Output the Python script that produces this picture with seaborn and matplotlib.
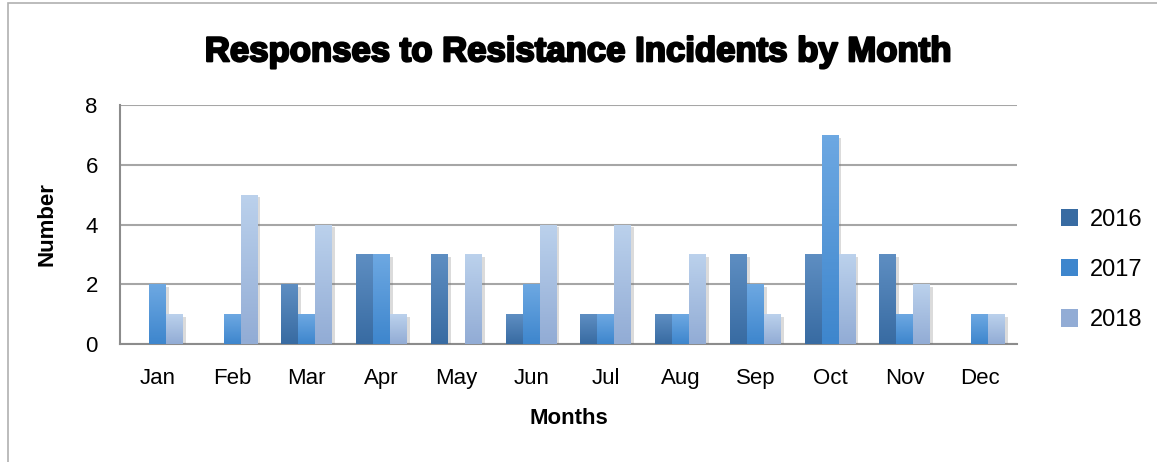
import numpy as np
import pandas as pd
import matplotlib
matplotlib.use("Agg")
import matplotlib.pyplot as plt
import matplotlib.patheffects as pe
from matplotlib.colors import LinearSegmentedColormap
from matplotlib.patches import Rectangle
import seaborn as sns

# --- Data ---
months = ["Jan", "Feb", "Mar", "Apr", "May", "Jun",
          "Jul", "Aug", "Sep", "Oct", "Nov", "Dec"]
years = ["2016", "2017", "2018"]
v2016 = [0, 0, 2, 3, 3, 1, 1, 1, 3, 3, 3, 0]
v2017 = [2, 1, 1, 3, 0, 2, 1, 1, 2, 7, 1, 1]
v2018 = [1, 5, 4, 1, 3, 4, 4, 3, 1, 3, 2, 1]

df = pd.DataFrame({"Month": months * 3,
                   "Year": np.repeat(years, len(months)),
                   "Number": v2016 + v2017 + v2018})

# top / bottom gradient colours per series
GRAD = {"2016": ("#5E8EC2", "#386BA2"),
        "2017": ("#6DA8E2", "#3E86CD"),
        "2018": ("#BBD1EC", "#92ACD5")}
palette = {y: GRAD[y][1] for y in years}

# --- Plot ---
sns.set_style("white")
plt.rcParams["font.family"] = ["Liberation Sans", "DejaVu Sans"]
plt.rcParams.update({"text.color": "black", "axes.labelcolor": "black",
                     "xtick.color": "black", "ytick.color": "black"})

fig = plt.figure(figsize=(11.57, 4.62), dpi=100)
ax = fig.add_axes([0.1037, 0.2554, 0.7753, 0.5173])

sns.barplot(data=df, x="Month", y="Number", hue="Year", palette=palette,
            width=0.68, gap=0, saturation=1, linewidth=0, ax=ax, zorder=3)

ax.set_ylim(0, 8)
ax.set_yticks([0, 2, 4, 6, 8])
ax.set_xlim(-0.5, 11.5)
ax.grid(axis="y", color="#A6A6A6", linewidth=1.5, zorder=0)
ax.grid(axis="x", visible=False)
for s in ["top", "right"]:
    ax.spines[s].set_visible(False)
for s in ["left", "bottom"]:
    ax.spines[s].set_color("#8C8C8C")
    ax.spines[s].set_linewidth(1.5)
ax.tick_params(axis="y", length=6, width=1.5, color="#8C8C8C", labelsize=16,
               labelcolor="black", pad=10)
ax.tick_params(axis="x", length=0, labelsize=16, labelcolor="black", pad=17)

# gradient fill + soft shadow on each bar
for i, patch in enumerate(ax.patches[:len(df)]):
    yr = years[i // len(months)]
    h = patch.get_height()
    if h <= 0:
        continue
    x0, w = patch.get_x(), patch.get_width()
    cmap = LinearSegmentedColormap.from_list("g", [GRAD[yr][1], GRAD[yr][0]])
    grad = np.linspace(0, 1, 64).reshape(-1, 1)
    im = ax.imshow(grad, cmap=cmap, origin="lower", aspect="auto",
                   extent=(x0, x0 + w, 0, h), zorder=3.5)
    im.set_clip_path(patch)
    patch.set_path_effects([pe.SimplePatchShadow(offset=(2, -2), alpha=0.25,
                                                 shadow_rgbFace="#707070"),
                            pe.Normal()])
ax.set_xlim(-0.5, 11.5)
ax.set_ylim(0, 8)

ax.set_xlabel("Months", fontsize=16, fontweight="bold", labelpad=14)
ax.set_ylabel("Number", fontsize=16, fontweight="bold", labelpad=20)

fig.text(0.50, 0.888, "Responses to Resistance Incidents by Month",
         ha="center", va="center", fontsize=25, fontweight="heavy",
         color="black",
         path_effects=[pe.withStroke(linewidth=1.6, foreground="black")])

leg = ax.legend(loc="center left", bbox_to_anchor=(1.025, 0.31), frameon=False,
                fontsize=17, handlelength=0.75, handleheight=0.75,
                labelspacing=1.2, handletextpad=0.5)
for handle, yr in zip(leg.legend_handles, years):
    handle.set_facecolor(GRAD[yr][1])

# outer chart border
fig.patches.append(Rectangle((0.007, -0.1), 1.2, 1.0935, transform=fig.transFigure,
                             fill=False, edgecolor="#B0B0B0", linewidth=1.2))

fig.savefig("out.png", dpi=100)
